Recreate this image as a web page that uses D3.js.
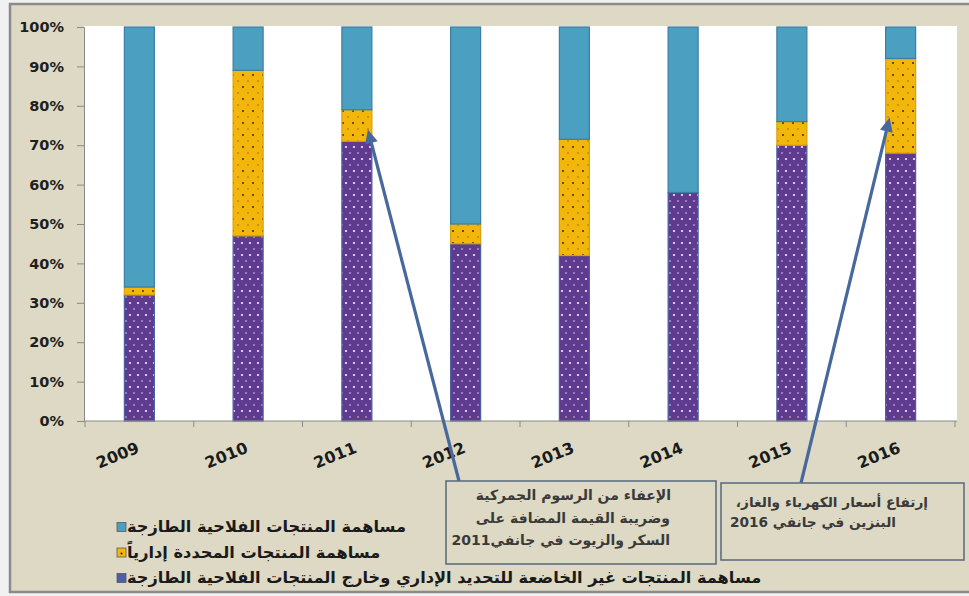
<!DOCTYPE html>
<html>
<head>
<meta charset="utf-8">
<script src="https://cdn.jsdelivr.net/npm/d3@7/dist/d3.min.js"></script>
<style>
  body { margin: 0; background: #f1f1f1; }
  svg { display: block; }
</style>
</head>
<body>
<svg id="chart" width="969" height="596"></svg>
<script>
// Years on the category axis
const years = ["2009", "2010", "2011", "2012", "2013", "2014", "2015", "2016"];
// Shares of the price index (%), stacked bottom to top
const otherShare     = [32, 47, 71, 45, 42, 58, 70, 68];   // purple, bottom
const regulatedShare = [2, 42, 8, 5, 29.5, 0, 6, 24];      // yellow, middle
const freshShare     = [66, 11, 21, 50, 28.5, 42, 24, 8];  // blue, top
const yTicks = [0, 10, 20, 30, 40, 50, 60, 70, 80, 90, 100];

const seriesKeys = ["other", "regulated", "fresh"];
const legendLabels = [
  "مساهمة المنتجات الفلاحية الطازجة",
  "مساهمة المنتجات المحددة إدارياً",
  "مساهمة المنتجات غير الخاضعة للتحديد الإداري وخارج المنتجات الفلاحية الطازجة"
];
const note2011 = ["الإعفاء من الرسوم الجمركية", "وضريبة القيمة المضافة على", "السكر والزيوت في جانفي2011"];
const note2016 = ["إرتفاع أسعار الكهرباء والغاز،", "البنزين في جانفي 2016"];

const table = years.map((y, i) => ({
  year: y, other: otherShare[i], regulated: regulatedShare[i], fresh: freshShare[i]
}));

const svg = d3.select("#chart");
const W = 969, H = 596;
const plot = { left: 85, right: 955, top: 27, bottom: 421 };

// Fill patterns
const defs = svg.append("defs");
const pPurple = defs.append("pattern").attr("id", "dotsPurple")
  .attr("patternUnits", "userSpaceOnUse").attr("width", 8).attr("height", 12);
pPurple.append("rect").attr("width", 8).attr("height", 12).attr("fill", "#5f3b90");
pPurple.append("circle").attr("cx", 2).attr("cy", 3).attr("r", 1.1).attr("fill", "#f4eefc");
pPurple.append("circle").attr("cx", 6).attr("cy", 9).attr("r", 0.9).attr("fill", "#c9b2e6").attr("opacity", 0.8);

const pYellow = defs.append("pattern").attr("id", "dotsYellow")
  .attr("patternUnits", "userSpaceOnUse").attr("width", 10).attr("height", 12);
pYellow.append("rect").attr("width", 10).attr("height", 12).attr("fill", "#f3b60a");
pYellow.append("circle").attr("cx", 3).attr("cy", 3).attr("r", 1).attr("fill", "#3a2a10");
pYellow.append("circle").attr("cx", 8).attr("cy", 9).attr("r", 0.8).attr("fill", "#7a5a10").attr("opacity", 0.8);

const fills = { other: "url(#dotsPurple)", regulated: "url(#dotsYellow)", fresh: "#4b9fc0" };
const strokes = { other: "#4b62a3", regulated: "#d9a10a", fresh: "#3c7ea2" };
const legendFills = { other: "#4b5ea8", regulated: "#f3b60a", fresh: "#4b9fc0" };

// Page and chart frame
svg.append("rect").attr("width", W).attr("height", H).attr("fill", "#f1f1f1");
svg.append("rect").attr("x", 10).attr("y", 4).attr("width", W + 10).attr("height", 588)
  .attr("fill", "#ddd9c4").attr("stroke", "#8b8b8b").attr("stroke-width", 2.5);
svg.append("rect").attr("x", 84).attr("y", 26).attr("width", 873).attr("height", 395)
  .attr("fill", "#ffffff");

// Scales
const y = d3.scaleLinear().domain([0, 100]).range([plot.bottom, plot.top]);
const xCat = d3.scaleBand().domain(years).range([plot.left, plot.right]).padding(0);
const xBar = d3.scaleBand().domain(years).range([plot.left, plot.right])
  .paddingInner(0.724).paddingOuter(0.362);

// Stacked bars
const stacked = d3.stack().keys(seriesKeys)(table);
svg.append("g").selectAll("g").data(stacked).join("g")
  .attr("fill", d => fills[d.key]).attr("stroke", d => strokes[d.key])
  .attr("stroke-width", 1.2)
  .selectAll("rect").data(d => d.filter(s => s[1] - s[0] > 0)).join("rect")
  .attr("x", d => xBar(d.data.year))
  .attr("width", xBar.bandwidth())
  .attr("y", d => y(d[1]))
  .attr("height", d => y(d[0]) - y(d[1]));

// Y axis
const yAxis = svg.append("g").attr("transform", "translate(84,0)")
  .call(d3.axisLeft(y).tickValues(yTicks).tickFormat(d => d + "%").tickSize(7).tickPadding(13));
yAxis.select(".domain").attr("stroke", "#8a8a8a");
yAxis.selectAll(".tick line").attr("stroke", "#8a8a8a");
yAxis.selectAll(".tick text").attr("font-family", "DejaVu Sans").attr("font-weight", "bold")
  .attr("font-size", 14.5).attr("fill", "#1e1e1e");

// X axis: baseline, boundary ticks, rotated year labels
const xg = svg.append("g");
xg.append("line").attr("x1", 84).attr("x2", 957).attr("y1", plot.bottom).attr("y2", plot.bottom)
  .attr("stroke", "#8a8a8a");
xg.selectAll("line.tk").data(years.concat(["end"])).join("line").attr("class", "tk")
  .attr("x1", d => d === "end" ? plot.right : xCat(d))
  .attr("x2", d => d === "end" ? plot.right : xCat(d))
  .attr("y1", plot.bottom).attr("y2", plot.bottom + 6).attr("stroke", "#8a8a8a");
xg.selectAll("text").data(years).join("text")
  .attr("transform", d => `translate(${xCat(d) + xCat.bandwidth() / 2 + 1},452) rotate(-22)`)
  .attr("text-anchor", "end")
  .attr("font-family", "DejaVu Sans").attr("font-weight", "bold").attr("font-size", 16)
  .attr("fill", "#1a1a1a")
  .text(d => d);

// Legend
const legendOrder = ["fresh", "regulated", "other"];
const lg = svg.append("g");
legendOrder.forEach((k, i) => {
  const cy = 527 + i * 25.5;
  lg.append("rect").attr("x", 117).attr("y", cy - 4.5).attr("width", 9).attr("height", 9)
    .attr("fill", legendFills[k]).attr("stroke", "#5a5a5a").attr("stroke-width", 0.8);
  if (k === "regulated") {
    lg.append("circle").attr("cx", 121.5).attr("cy", cy + 1).attr("r", 1).attr("fill", "#222");
  }
  lg.append("text").attr("x", 127).attr("y", cy + 5)
    .attr("direction", "rtl").attr("text-anchor", "end")
    .attr("font-family", "DejaVu Sans").attr("font-weight", "bold").attr("font-size", 16.2)
    .attr("fill", "#1a1a1a")
    .text(legendLabels[i]);
});

// Annotation arrows
function arrow(x1, y1, x2, y2) {
  const ang = Math.atan2(y2 - y1, x2 - x1);
  const len = 14, half = 6.5;
  const bx = x2 - len * Math.cos(ang), by = y2 - len * Math.sin(ang);
  svg.append("line").attr("x1", x1).attr("y1", y1).attr("x2", bx).attr("y2", by)
    .attr("stroke", "#46689c").attr("stroke-width", 3.2);
  svg.append("path")
    .attr("d", `M${x2},${y2} L${bx - half * Math.sin(ang)},${by + half * Math.cos(ang)} L${bx + half * Math.sin(ang)},${by - half * Math.cos(ang)} Z`)
    .attr("fill", "#46689c");
}
arrow(459, 481, xBar("2011") + xBar.bandwidth() - 4, y(74));
arrow(801, 483, xBar("2016") + 4, y(77));

// Annotation boxes (text lines set right-to-left, each with its own right edge)
function noteBox(x, yTop, w, h, lines, rightXs, firstY, lineGap, size) {
  svg.append("rect").attr("x", x).attr("y", yTop).attr("width", w).attr("height", h)
    .attr("fill", "#ddd9c4").attr("stroke", "#5e6e80").attr("stroke-width", 1.6);
  lines.forEach((t, i) => {
    svg.append("text").attr("x", rightXs[i]).attr("y", firstY + i * lineGap)
      .attr("direction", "rtl").attr("text-anchor", "start")
      .attr("font-family", "DejaVu Sans").attr("font-weight", "bold").attr("font-size", size)
      .attr("fill", "#3a3a3a").text(t);
  });
}
noteBox(446, 481, 270, 83, note2011, [671, 670, 670], 500, 22.5, 14);
noteBox(721, 483, 243, 77, note2016, [928, 896], 507, 20, 13.7);
</script>
</body>
</html>
